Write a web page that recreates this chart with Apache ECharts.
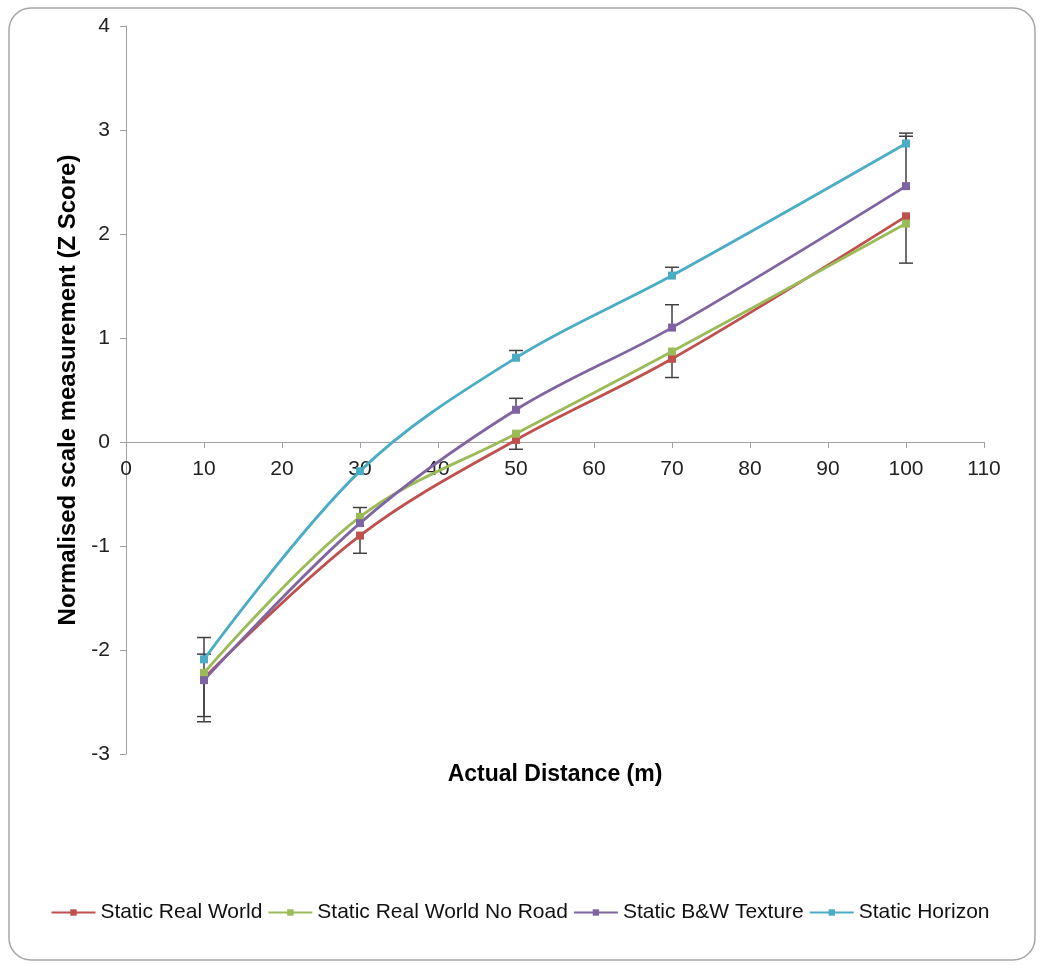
<!DOCTYPE html>
<html><head><meta charset="utf-8">
<script src="https://cdn.jsdelivr.net/npm/echarts@6/dist/echarts.min.js"></script>
<style>html,body{margin:0;padding:0;background:#fff}#c{width:1040px;height:965px}</style>
</head><body><div id="c"></div>
<script>
const distances = [10, 30, 50, 70, 100];
const realWorld = [-2.27, -0.90, 0.02, 0.80, 2.17];
const realWorldNoRoad = [-2.22, -0.72, 0.08, 0.87, 2.10];
const bwTexture = [-2.29, -0.78, 0.31, 1.10, 2.46];
const horizon = [-2.09, -0.28, 0.81, 1.60, 2.87];
// error bar lengths (one-sided, as visible in the picture)
const horizonErrPlus = [0.21, 0, 0.07, 0.08, 0.10];
const bwErrPlus = [0.25, 0.15, 0.11, 0.22, 0.48];
const realWorldErrMinus = [0.42, 0.17, 0.09, 0.18, 0.45];
const noRoadErrMinus = [0.42, 0, 0, 0, 0];
const seriesNames = ['Static Real World', 'Static Real World No Road', 'Static B&W Texture', 'Static Horizon'];
const colors = ['#C0504D', '#9BBB59', '#8064A2', '#4BACC6'];
const yTicks = [-3, -2, -1, 0, 1, 2, 3, 4];
const xTicks = [0, 10, 20, 30, 40, 50, 60, 70, 80, 90, 100, 110];

const seriesValues = [realWorld, realWorldNoRoad, bwTexture, horizon];
const errData = [];
distances.forEach((d, i) => {
  if (horizonErrPlus[i]) errData.push([d, horizon[i], horizon[i] + horizonErrPlus[i]]);
  if (bwErrPlus[i]) errData.push([d, bwTexture[i], bwTexture[i] + bwErrPlus[i]]);
  if (realWorldErrMinus[i]) errData.push([d, realWorld[i], realWorld[i] - realWorldErrMinus[i]]);
  if (noRoadErrMinus[i]) errData.push([d, realWorldNoRoad[i], realWorldNoRoad[i] - noRoadErrMinus[i]]);
});

const font = 'Liberation Sans, Arial, sans-serif';
const gridTop = 26, gridBottomPx = 754;
const chart = echarts.init(document.getElementById('c'));
// distance (px) from the bottom of the plot to the y = 0 line
const zeroOffset = (gridBottomPx - gridTop) * (0 - (-3)) / (4 - (-3));
const lineSeries = seriesNames.map((n, k) => ({
  name: n, type: 'line', smooth: 0.35,
  data: distances.map((d, i) => [d, seriesValues[k][i]]),
  symbol: 'rect', symbolSize: 8, showSymbol: true,
  lineStyle: { color: colors[k], width: 2.8 },
  itemStyle: { color: colors[k] },
  z: 3
}));
chart.setOption({
  animation: false,
  backgroundColor: '#fff',
  graphic: [{ type: 'rect', shape: { x: 9, y: 8, width: 1026, height: 952, r: 22 }, style: { fill: 'none', stroke: '#a6a6a6', lineWidth: 1.5 }, z: -1 }],
  grid: { left: 126, right: 56, top: gridTop, bottom: 965 - gridBottomPx, outerBoundsMode: 'none', containLabel: false },
  xAxis: {
    type: 'value', min: 0, max: 110, interval: 10,
    position: 'bottom', offset: -zeroOffset,
    name: 'Actual Distance (m)', nameLocation: 'middle', nameGap: 321,
    nameTextStyle: { fontFamily: font, fontSize: 23, fontWeight: 'bold', color: '#000' },
    axisLine: { onZero: false, lineStyle: { color: '#a0a0a0', width: 1 } },
    axisTick: { show: true, inside: false, length: 6, lineStyle: { color: '#a0a0a0' } },
    axisLabel: { fontFamily: font, fontSize: 21, color: '#222', margin: 17, formatter: v => xTicks.includes(v) ? String(v) : '' },
    splitLine: { show: false }
  },
  yAxis: {
    type: 'value', min: -3, max: 4, interval: 1,
    name: 'Normalised scale measurement (Z Score)', nameLocation: 'middle', nameGap: 44,
    nameTextStyle: { fontFamily: font, fontSize: 24, fontWeight: 'bold', color: '#000' },
    axisLine: { show: true, lineStyle: { color: '#a0a0a0', width: 1 } },
    axisTick: { show: true, length: 6, lineStyle: { color: '#a0a0a0' } },
    axisLabel: { fontFamily: font, fontSize: 21, color: '#222', margin: 16, formatter: v => yTicks.includes(v) ? String(v) : '' },
    splitLine: { show: false }
  },
  legend: {
    top: 897, left: 'center', itemWidth: 44, itemHeight: 8, itemGap: 5,
    textStyle: { fontFamily: font, fontSize: 21, color: '#111' },
    data: seriesNames
  },
  series: [
    ...lineSeries,
    {
      type: 'custom', name: 'err', silent: true, z: 2,
      data: errData,
      renderItem: (params, api) => {
        const p0 = api.coord([api.value(0), api.value(1)]);
        const p1 = api.coord([api.value(0), api.value(2)]);
        const cw = 7;
        return {
          type: 'group', children: [
            { type: 'line', shape: { x1: p0[0], y1: p0[1], x2: p1[0], y2: p1[1] }, style: { stroke: '#404040', lineWidth: 1.5 } },
            { type: 'line', shape: { x1: p1[0] - cw, y1: p1[1], x2: p1[0] + cw, y2: p1[1] }, style: { stroke: '#404040', lineWidth: 1.5 } }
          ]
        };
      }
    }
  ]
});
</script></body></html>
